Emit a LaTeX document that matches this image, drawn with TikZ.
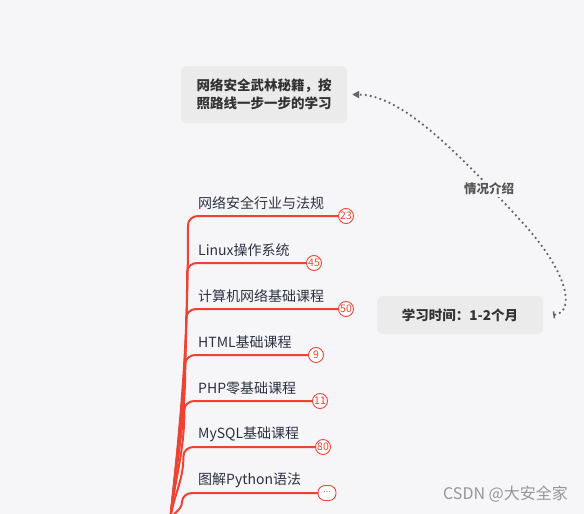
\documentclass[tikz,border=0pt]{standalone}
\usepackage{fontspec}
\newfontfamily\cjk{Noto Sans CJK SC}
\newfontfamily\dv{DejaVu Sans}
\usetikzlibrary{arrows.meta}
\definecolor{bgc}{RGB}{246,246,248}
\definecolor{boxc}{RGB}{235,235,235}
\definecolor{redc}{RGB}{238,66,50}
\definecolor{txtc}{RGB}{45,50,66}
\definecolor{darkc}{RGB}{51,51,51}
\definecolor{dotc}{RGB}{100,100,100}
\definecolor{labc}{RGB}{85,85,85}
\definecolor{wmc}{RGB}{150,150,150}
\begin{document}
\begin{tikzpicture}[x=1pt,y=-1pt,
  infobox/.style={fill=boxc, rounded corners=6pt, inner sep=0pt, align=center,
     font=\cjk\bfseries\fontsize{13.5}{18}\selectfont, text=darkc},
  branchtxt/.style={anchor=west, inner sep=0pt, font=\cjk\fontsize{14}{16}\selectfont, text=txtc},
  badge/.style={circle, draw=redc, fill=white, line width=0.9pt, minimum size=15pt, inner sep=0pt,
     text=redc, font=\cjk\fontsize{10.5}{10.5}\selectfont},
  morebadge/.style={rectangle, rounded corners=7pt, draw=redc, fill=white, line width=0.9pt,
     minimum width=18pt, minimum height=15pt, inner sep=0pt, text=redc, font=\dv\fontsize{8}{8}\selectfont},
  branch/.style={draw=redc, line width=2pt, line cap=round},
  dotline/.style={draw=dotc, line width=1.8pt, dash pattern=on 1.8pt off 3.2pt},
]
\fill[bgc] (0,0) rectangle (584,514);
\clip (0,0) rectangle (584,514);

\node[infobox, minimum width=166pt, minimum height=57pt] (intro) at (264,94.5)
  {网络安全武林秘籍，按\\照路线一步一步的学习};
\node[infobox, minimum width=166pt, minimum height=38pt] (time) at (460,315)
  {学习时间：1-2个月};

\coordinate (s) at ([xshift=10pt]time.east);
\coordinate (e) at ([xshift=5pt]intro.east);
\draw[dotline, {Bar[width=7pt,line width=1.5pt]}-{Triangle[length=7pt,width=7pt]}]
  (s) .. controls (576,312) and (568,272) .. (522,222)
      .. controls (452,146) and (400,95) .. (e);
\node[fill=bgc, inner sep=2pt, font=\cjk\bfseries\fontsize{12.5}{14}\selectfont, text=labc] (lab) at (489,189) {情况介绍};

\coordinate (root) at (170,522);

\foreach \y/\bx/\num/\t [count=\i] in {
  216/346/23/网络安全行业与法规,
  263/314/45/Linux操作系统,
  309/346/50/计算机网络基础课程,
  355/316/9/HTML基础课程,
  401/320/11/PHP零基础课程,
  447/323/80/MySQL基础课程}{
  \pgfmathsetmacro{\kx}{182+6*(522-\y)/306}
  \node[badge] (b\i) at (\bx,\y) {\num};
  \node[branchtxt] (t\i) at (198,\y-13) {\t};
  \draw[branch] (root) to[out=84,in=-90] (\kx,\y+9) to[out=90,in=180] (\kx+10,\y) -- (b\i.west);
}
\node[morebadge] (b7) at (327,493) {⋯};
\node[branchtxt] (t7) at (198,480) {图解Python语法};
\draw[branch] (root) to[out=84,in=-90] (182,502) to[out=90,in=180] (192,493) -- (b7.west);

\node[font=\cjk\fontsize{16}{18}\selectfont, text=wmc, anchor=east, inner sep=0pt] (wm) at (568,494) {CSDN @大安全家};
\end{tikzpicture}
\end{document}
